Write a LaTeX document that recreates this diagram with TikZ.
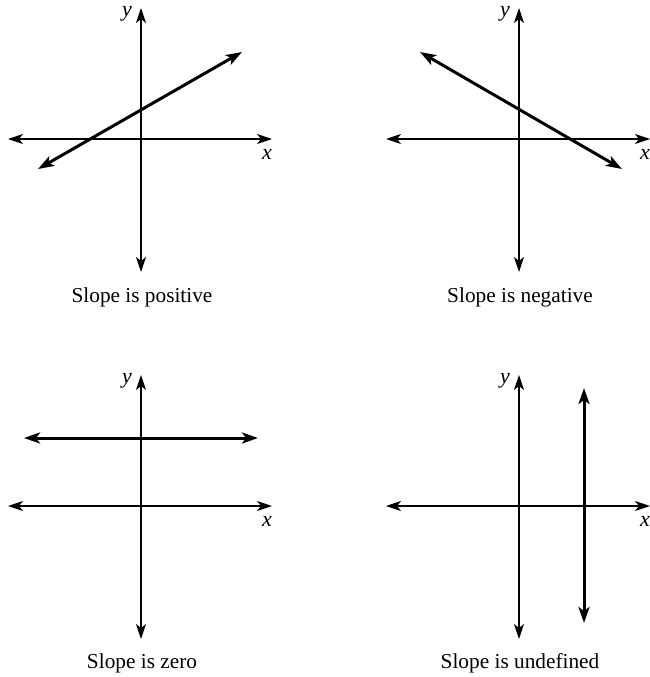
\documentclass[tikz,border=0pt]{standalone}
\usepackage{fontspec}
\setmainfont{Liberation Serif}
\usetikzlibrary{arrows.meta}
\tikzset{
  axis/.style={line width=1.3pt, {Stealth[length=15pt,width=10pt,inset=4pt]}-{Stealth[length=15pt,width=10pt,inset=4pt]}},
  graphline/.style={line width=3pt, {Stealth[length=16pt,width=11pt,inset=4pt]}-{Stealth[length=16pt,width=11pt,inset=4pt]}},
  caption/.style={font=\fontsize{21.3}{25}\selectfont},
  axlabel/.style={font=\fontsize{22}{26}\selectfont\itshape}
}
\begin{document}
\begin{tikzpicture}[x=1pt,y=1pt]
	\useasboundingbox (0,0) rectangle (650,-677);
	
	% four sets of axes
	\foreach \i/\ox/\oy in {1/141/-139, 2/519/-139, 3/141/-506, 4/519/-506}{
		\begin{scope}[shift={(\ox,\oy)}]
			\coordinate (l\i) at (-133,0);
			\coordinate (r\i) at (131,0);
			\coordinate (b\i) at (0,-133);
			\coordinate (t\i) at (0,131);
			\draw[axis] (l\i) -- (r\i);
			\draw[axis] (b\i) -- (t\i);
			\node[axlabel] (xl\i) at (126,-15) {x};
			\node[axlabel] (yl\i) at (-14,125) {y};
		\end{scope}
	}
	
	% slope is positive
	\coordinate (p1) at (38,-169);
	\coordinate (p2) at (242,-52);
	\draw[graphline] (p1) -- (p2);
	\node[caption] (cappos) at (142,-297) {Slope is positive};
	
	% slope is negative
	\coordinate (n1) at (420,-52);
	\coordinate (n2) at (622,-169);
	\draw[graphline] (n1) -- (n2);
	\node[caption] (capneg) at (520,-297) {Slope is negative};
	
	% slope is zero
	\coordinate (z1) at (24,-438);
	\coordinate (z2) at (258,-438);
	\draw[graphline] (z1) -- (z2);
	\node[caption] (capzero) at (142,-663) {Slope is zero};
	
	% slope is undefined
	\coordinate (u1) at (584,-623);
	\coordinate (u2) at (584,-388);
	\draw[graphline] (u1) -- (u2);
	\node[caption] (capund) at (520,-663) {Slope is undefined};
	
\end{tikzpicture}
\end{document}
